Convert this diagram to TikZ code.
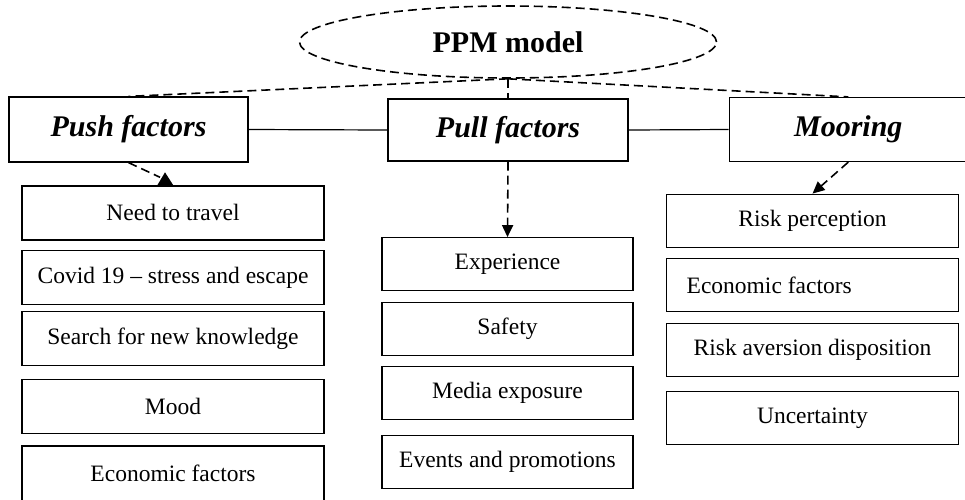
\documentclass[tikz,border=0pt]{standalone}
\usepackage{fontspec}
\setmainfont{Liberation Serif}
\usetikzlibrary{shapes.geometric,arrows.meta}
\begin{document}
\begin{tikzpicture}[x=1pt,y=-1pt,
  every node/.style={line width=1.2pt},
  dsh/.style={line width=1.6pt,dash pattern=on 9pt off 5pt},
  head/.style={draw,rectangle,inner sep=0pt,font=\fontsize{30}{34}\selectfont\bfseries\itshape},
  item/.style={draw,rectangle,inner sep=0pt,font=\fontsize{23.5}{27}\selectfont},
  pushitem/.style={item,minimum width=302pt,minimum height=54pt},
  pullitem/.style={item,minimum width=251pt,minimum height=53pt},
  mooritem/.style={item,minimum width=291.7pt,minimum height=53pt},
  arr/.style={dsh,-{Triangle[width=11pt,length=12pt]}}
]
\useasboundingbox (0,0) rectangle (965,499);

\node[draw,ellipse,dsh,inner sep=0pt,minimum width=417pt,minimum height=72pt,
      font=\fontsize{30}{34}\selectfont\bfseries] (ppm) at (508,42) {PPM model};

\node[head,minimum width=239pt,minimum height=65pt] (push) at (128.5,129.5) {Push factors};
\node[head,minimum width=240pt,minimum height=62pt] (pull) at (508,130) {Pull factors};
\node[head,minimum width=238pt,minimum height=64pt] (moor) at (848.3,129.5) {Mooring};

\node[pushitem] (n1) at (173,212.9) {Need to travel};
\node[pushitem] (n2) at (173,277.5) {Covid 19 – stress and escape};
\node[pushitem] (n3) at (173,338.3) {Search for new knowledge};
\node[pushitem] (n4) at (173,406.3) {Mood};
\node[pushitem,minimum height=55pt] (n5) at (173,473.5) {Economic factors};

\node[pullitem] (p1) at (507.5,264.2) {Experience};
\node[pullitem] (p2) at (507.5,328.7) {Safety};
\node[pullitem] (p3) at (507.5,393) {Media exposure};
\node[pullitem] (p4) at (507.5,461.7) {Events and promotions};

\node[mooritem] (m1) at (812.5,220.7) {Risk perception};
\node[item,minimum height=53pt,inner xsep=20pt,text width=251.7pt,align=flush left] (m2) at (812.5,285) {Economic factors};
\node[mooritem] (m3) at (812.5,349.7) {Risk aversion disposition};
\node[mooritem] (m4) at (812.5,418) {Uncertainty};

% top connectors
\draw[dsh] (ppm.south) -- (push.north);
\draw[dsh] (ppm.south) -- (moor.north);
\draw[dsh] (ppm.south) -- (pull.north);
\draw[line width=1.2pt] (push.east) -- (pull.west);
\draw[line width=1.2pt] (pull.east) -- (moor.west);

% push -> need to travel
\draw[dsh] (push.south) -- ([xshift=-13pt,yshift=8pt]n1.north);
\fill ([xshift=-8pt,yshift=13pt]n1.north) -- ([xshift=-15.7pt]n1.north) -- ([xshift=0.3pt]n1.north) -- cycle;

% pull -> experience
\draw[arr] (pull.south) -- (p1.north);

% mooring -> risk perception
\draw[arr] (moor.south) -- (m1.north);
\end{tikzpicture}
\end{document}
